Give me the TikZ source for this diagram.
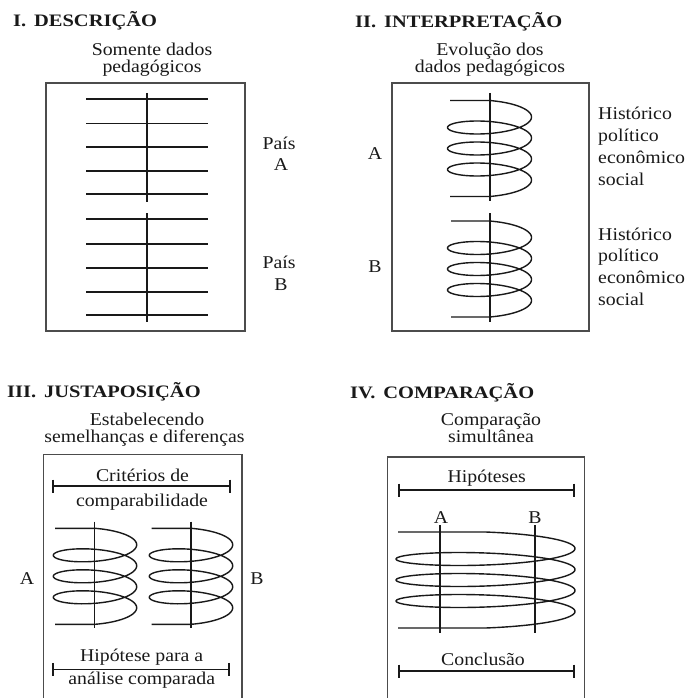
\documentclass[tikz,border=0pt]{standalone}
\usepackage{fontspec}
\setmainfont{Liberation Serif}[FakeStretch=1.1]
\newfontfamily\titlefont{Liberation Serif}[FakeStretch=1.17]
\tikzset{
  frame/.style={line width=1.6pt, draw=black!70},
  wire/.style={line width=1.4pt, draw=black!90},
  barend/.style={line width=2.8pt, draw=black!90},
  txt/.style={font=\fontsize{18}{18}\selectfont, inner sep=0pt, anchor=base, text=black!90},
  ltxt/.style={txt, anchor=base west},
  ttl/.style={font=\titlefont\bfseries\fontsize{17.5}{17.5}\selectfont, inner sep=0pt, anchor=base west, text=black!90},
}
% helix: #1 = centre x, #2 = half width, #3 = top y, #4 = x of free ends
\newcommand\helixpath[4]{%
  \draw[wire] (#4,#3) -- (#1,#3) -- plot[variable=\ang, domain=0:21.99115, samples=260, smooth]
    ({#1+#2*sin(\ang r)},{#3+11.25+3.34225*\ang-11.25*cos(\ang r)}) -- (#4,{#3+96});
}
% bar with end marks: #1 = y, #2 = left x, #3 = right x
\newcommand\markedbar[3]{%
  \draw[wire] (#2,#1) -- (#3,#1);
  \draw[barend] (#2,{#1-6.5}) -- (#2,{#1+6.5});
  \draw[barend] (#3,{#1-6.5}) -- (#3,{#1+6.5});
}
\begin{document}
\begin{tikzpicture}[x=1pt,y=-1pt]
\useasboundingbox (0,0) rectangle (687,698);
\clip (0,0) rectangle (687,698);

% ---------- I. DESCRICAO ----------
\node[ttl] (t1) at (13,26.7) {I.\hspace{0.45em}DESCRIÇÃO};
\node[txt] (s1a) at (152,55.8) {Somente dados};
\node[txt] (s1b) at (152,72.2) {pedagógicos};
\draw[frame] (46,83) rectangle (245,331);
\foreach \yy in {99,123.5,147,171,194,219,244,268,292,315}
  \draw[wire] (86,\yy) -- (208,\yy);
\draw[wire] (147,93) -- (147,202);
\draw[wire] (147,213) -- (147,322);
\node[txt] (pa1) at (279,149) {País};
\node[txt] (pa2) at (281,170.7) {A};
\node[txt] (pb1) at (279,268) {País};
\node[txt] (pb2) at (281,290.7) {B};

% ---------- II. INTERPRETACAO ----------
\node[ttl] (t2) at (355,27.3) {II.\hspace{0.45em}INTERPRETAÇÃO};
\node[txt] (s2a) at (490,55.5) {Evolução dos};
\node[txt] (s2b) at (490,72.5) {dados pedagógicos};
\draw[frame] (392,83) rectangle (589,331);
\helixpath{489.5}{42}{100.5}{450}
\helixpath{489.5}{42}{221}{451}
\draw[wire] (490,93) -- (490,201);
\draw[wire] (490,213) -- (490,322);
\node[txt] (a2) at (375,159) {A};
\node[txt] (b2) at (375,272.7) {B};
\node[ltxt] (h1) at (598,120) {Histórico};
\node[ltxt] (h2) at (598,141.7) {político};
\node[ltxt] (h3) at (598,163.3) {econômico};
\node[ltxt] (h4) at (598,185) {social};
\node[ltxt] (g1) at (598,240) {Histórico};
\node[ltxt] (g2) at (598,261.7) {político};
\node[ltxt] (g3) at (598,283.3) {econômico};
\node[ltxt] (g4) at (598,305) {social};

% ---------- III. JUSTAPOSICAO ----------
\node[ttl] (t3) at (7,397.3) {III.\hspace{0.45em}JUSTAPOSIÇÃO};
\node[txt] (s3a) at (147,425.5) {Estabelecendo};
\node[txt] (s3b) at (144.5,442.2) {semelhanças e diferenças};
\draw[frame] (43.5,710) -- (43.5,454.3) -- (242,454.3) -- (242,710);
\node[txt] (c3a) at (142.5,481.5) {Critérios de};
\markedbar{486}{53}{230}
\node[txt] (c3b) at (142,506) {comparabilidade};
\helixpath{95}{41.7}{528.3}{55}
\helixpath{191}{41.7}{528.3}{151.7}
\draw[wire] (94.3,521.7) -- (94.3,628);
\draw[wire] (191,521.7) -- (191,628);
\node[txt] (a3) at (27,584) {A};
\node[txt] (b3) at (257,584) {B};
\node[txt] (h3a) at (141.7,661.5) {Hipótese para a};
\markedbar{669.3}{53}{229}
\node[txt] (h3b) at (141.7,684.5) {análise comparada};

% ---------- IV. COMPARACAO ----------
\node[ttl] (t4) at (350,398.3) {IV.\hspace{0.45em}COMPARAÇÃO};
\node[txt] (s4a) at (491,425.5) {Comparação};
\node[txt] (s4b) at (491,442.5) {simultânea};
\draw[frame] (387.5,710) -- (387.5,456.7) -- (584.5,456.7) -- (584.5,710);
\node[txt] (hy) at (486.7,482.5) {Hipóteses};
\markedbar{490}{399}{574}
\node[txt] (a4) at (441,523) {A};
\node[txt] (b4) at (535,523.5) {B};
\helixpath{485.5}{89.5}{532}{398}
\draw[wire] (440,525) -- (440,633);
\draw[wire] (535,525) -- (535,633);
\node[txt] (co) at (483,665) {Conclusão};
\markedbar{671}{399}{574}
\end{tikzpicture}
\end{document}
